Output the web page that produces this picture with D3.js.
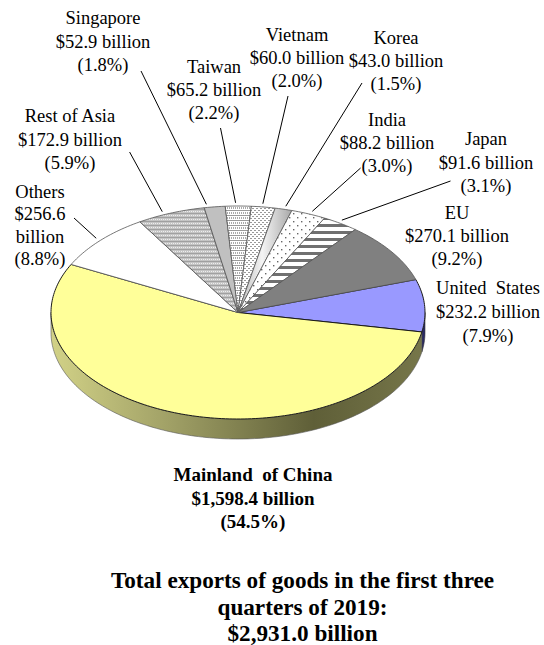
<!DOCTYPE html>
<html>
<head>
<meta charset="utf-8">
<script src="https://cdn.jsdelivr.net/npm/d3@7"></script>
<style>
  html, body { margin: 0; padding: 0; background: #fff; }
  text { font-family: "Liberation Serif", "Times New Roman", serif; fill: #000; }
</style>
</head>
<body>
<svg id="chart"></svg>
<script>
// values in billion USD, clockwise starting from United States
const names = ["United States", "Mainland of China", "Others", "Rest of Asia", "Singapore",
  "Taiwan", "Vietnam", "Korea", "India", "Japan", "EU"];
const values = [232.2, 1598.4, 256.6, 172.9, 52.9, 65.2, 60.0, 43.0, 88.2, 91.6, 270.1];
const amounts = ["$232.2 billion", "$1,598.4 billion", "$256.6", "$172.9 billion", "$52.9 billion",
  "$65.2 billion", "$60.0 billion", "$43.0 billion", "$88.2 billion", "$91.6 billion", "$270.1 billion"];
const shares = ["(7.9%)", "(54.5%)", "(8.8%)", "(5.9%)", "(1.8%)", "(2.2%)", "(2.0%)", "(1.5%)", "(3.0%)", "(3.1%)", "(9.2%)"];
const titleLines = ["Total exports of goods in the first three", "quarters of 2019:", "$2,931.0 billion"];

const width = 544, height = 645;
const svg = d3.select("#chart").attr("width", width).attr("height", height);
const defs = svg.append("defs");

// slice fills
const fills = ["#9999ff", "#ffff99", "#ffffff", "url(#pRest)", "#c0c0c0", "url(#pTaiwan)",
  "url(#pVietnam)", "url(#gKorea)", "url(#pIndia)", "url(#pJapan)", "#808080"];

function pattern(id, w, h, draw) {
  const p = defs.append("pattern").attr("id", id)
    .attr("patternUnits", "userSpaceOnUse").attr("width", w).attr("height", h);
  p.append("rect").attr("width", w).attr("height", h).attr("fill", "#fff");
  draw(p);
}
pattern("pRest", 4, 4, p => {
  p.append("rect").attr("width", 4).attr("height", 4).attr("fill", "#c4c4c4");
  p.append("rect").attr("y", 1).attr("width", 4).attr("height", 1).attr("fill", "#a0a0a0");
  p.append("rect").attr("x", 1).attr("y", 3).attr("width", 1).attr("height", 1).attr("fill", "#eeeeee");
  p.append("rect").attr("x", 3).attr("y", 3).attr("width", 1).attr("height", 1).attr("fill", "#eeeeee");
});
pattern("pTaiwan", 4, 5, p => {
  p.append("rect").attr("y", 0).attr("width", 4).attr("height", 1).attr("fill", "#999");
  p.append("rect").attr("x", 1).attr("y", 2).attr("width", 1).attr("height", 2).attr("fill", "#aaa");
  p.append("rect").attr("x", 3).attr("y", 2).attr("width", 1).attr("height", 2).attr("fill", "#aaa");
});
pattern("pVietnam", 4, 4, p => {
  p.append("rect").attr("x", 0).attr("y", 0).attr("width", 2).attr("height", 1).attr("fill", "#999");
  p.append("rect").attr("x", 2).attr("y", 2).attr("width", 2).attr("height", 1).attr("fill", "#999");
});
pattern("pIndia", 8, 8, p => {
  p.append("rect").attr("x", 1).attr("y", 1).attr("width", 1.4).attr("height", 1.4).attr("fill", "#666");
  p.append("rect").attr("x", 5).attr("y", 5).attr("width", 1.4).attr("height", 1.4).attr("fill", "#666");
});
pattern("pJapan", 8, 7, p => {
  p.append("rect").attr("width", 8).attr("height", 3).attr("fill", "#707070");
});

const gKorea = defs.append("linearGradient").attr("id", "gKorea");
[["0%", "#b8b8b8"], ["45%", "#f4f4f4"], ["100%", "#a8a8a8"]].forEach(s =>
  gKorea.append("stop").attr("offset", s[0]).attr("stop-color", s[1]));

const gWall = defs.append("linearGradient").attr("id", "gWall")
  .attr("gradientUnits", "userSpaceOnUse").attr("x1", 51).attr("x2", 426).attr("y1", 0).attr("y2", 0);
[["0%", "#d2d287"], ["30%", "#a3a368"], ["70%", "#5f5f38"], ["100%", "#77774a"]].forEach(s =>
  gWall.append("stop").attr("offset", s[0]).attr("stop-color", s[1]));

// tilted pie
const cx = 238, cy = 312.5, rx = 187, ry = 106.5, depth = 20;
const rimX = a => cx + rx * Math.cos(a);
const rimY = a => cy + ry * Math.sin(a);

const startAngle = -18 * Math.PI / 180;
const arcs = d3.pie().sort(null).startAngle(startAngle).endAngle(startAngle + 2 * Math.PI)(values);

const rimLine = d3.line().x(a => rimX(a)).y(a => rimY(a));
function rimAngles(a0, a1) {
  const n = Math.max(2, Math.ceil((a1 - a0) / 0.02));
  return d3.range(n + 1).map(i => a0 + (a1 - a0) * i / n);
}
function slicePath(d) {
  return "M" + cx + "," + cy + "L" + rimLine(rimAngles(d.startAngle, d.endAngle)).slice(1) + "Z";
}
function wallPath(a0, a1) {
  const top = rimAngles(a0, a1);
  const bottom = top.slice().reverse();
  const line = d3.line().x(d => d[0]).y(d => d[1]);
  return line(top.map(a => [rimX(a), rimY(a)]).concat(bottom.map(a => [rimX(a), rimY(a) + depth]))) + "Z";
}

// side wall: only the parts facing the viewer
const us = arcs[0];
svg.append("path").attr("d", wallPath(0, us.endAngle))
  .attr("fill", "#2a2a66").attr("stroke", "#333").attr("stroke-width", 0.6);
svg.append("path").attr("d", wallPath(us.endAngle, Math.PI))
  .attr("fill", "url(#gWall)").attr("stroke", "#555").attr("stroke-width", 0.6);

// slices on top
svg.selectAll("path.slice").data(arcs).join("path")
  .attr("class", "slice")
  .attr("d", slicePath)
  .attr("fill", (d, i) => fills[i])
  .attr("stroke", (d, i) => i <= 1 ? "#1a1a1a" : "#555")
  .attr("stroke-width", (d, i) => i <= 1 ? 1 : 0.8)
  .attr("stroke-linejoin", "round");

// label blocks, one row per name/amount/share; Others has an extra line
const labelLayout = [
  { x: 488, y: 293.5, gap: 24, lines: ["United\u00a0\u00a0States", amounts[0], shares[0]] },
  { x: 253, y: 481, gap: 23.5, bold: true, size: 19, lines: ["Mainland\u00a0 of China", amounts[1], shares[1]] },
  { x: 40, y: 198, gap: 22.3, lines: [names[2], amounts[2], "billion", shares[2]] },
  { x: 70, y: 122, gap: 23.5, lines: [names[3], amounts[3], shares[3]] },
  { x: 103, y: 24, gap: 23.5, lines: [names[4], amounts[4], shares[4]] },
  { x: 214, y: 73, gap: 23, lines: [names[5], amounts[5], shares[5]] },
  { x: 297, y: 41, gap: 23, lines: [names[6], amounts[6], shares[6]] },
  { x: 396, y: 44, gap: 23, lines: [names[7], amounts[7], shares[7]] },
  { x: 387, y: 126, gap: 23, lines: [names[8], amounts[8], shares[8]] },
  { x: 486, y: 145, gap: 23.5, lines: [names[9], amounts[9], shares[9]] },
  { x: 457, y: 219, gap: 23, lines: [names[10], amounts[10], shares[10]] }
];
labelLayout.forEach(l => {
  const t = svg.append("text").attr("text-anchor", "middle")
    .attr("font-size", l.size || 18.5).attr("font-weight", l.bold ? "bold" : "normal");
  l.lines.forEach((s, i) => t.append("tspan").attr("x", l.x).attr("y", l.y + i * l.gap).text(s));
});

// leader lines: from the label end to just outside the rim; frac = where along the slice it lands
const leaderGap = 1.03;
const leaders = [
  { i: 2, x: 74, y: 218, frac: 0.5 }, { i: 3, x: 129.6, y: 152, frac: 0.4 }, { i: 4, x: 141, y: 71, frac: 0.15 },
  { i: 5, x: 220.5, y: 128, frac: 0.4 }, { i: 6, x: 288, y: 96, frac: 0.45 }, { i: 7, x: 362, y: 83, frac: 0.55 },
  { i: 8, x: 360.6, y: 168, frac: 0.55 }, { i: 9, x: 450.5, y: 181, frac: 0.45 }
];
const leaderAngle = d => arcs[d.i].startAngle + (arcs[d.i].endAngle - arcs[d.i].startAngle) * d.frac;
svg.selectAll("line.leader").data(leaders).join("line")
  .attr("class", "leader")
  .attr("x1", d => d.x).attr("y1", d => d.y)
  .attr("x2", d => cx + (rimX(leaderAngle(d)) - cx) * leaderGap)
  .attr("y2", d => cy + (rimY(leaderAngle(d)) - cy) * leaderGap)
  .attr("stroke", "#000").attr("stroke-width", 1);

// title
svg.append("g").selectAll("text").data(titleLines).join("text")
  .attr("x", 302.5).attr("y", (d, i) => 588 + i * 26.5)
  .attr("text-anchor", "middle").attr("font-size", 23.2).attr("font-weight", "bold")
  .text(d => d);
</script>
</body>
</html>
